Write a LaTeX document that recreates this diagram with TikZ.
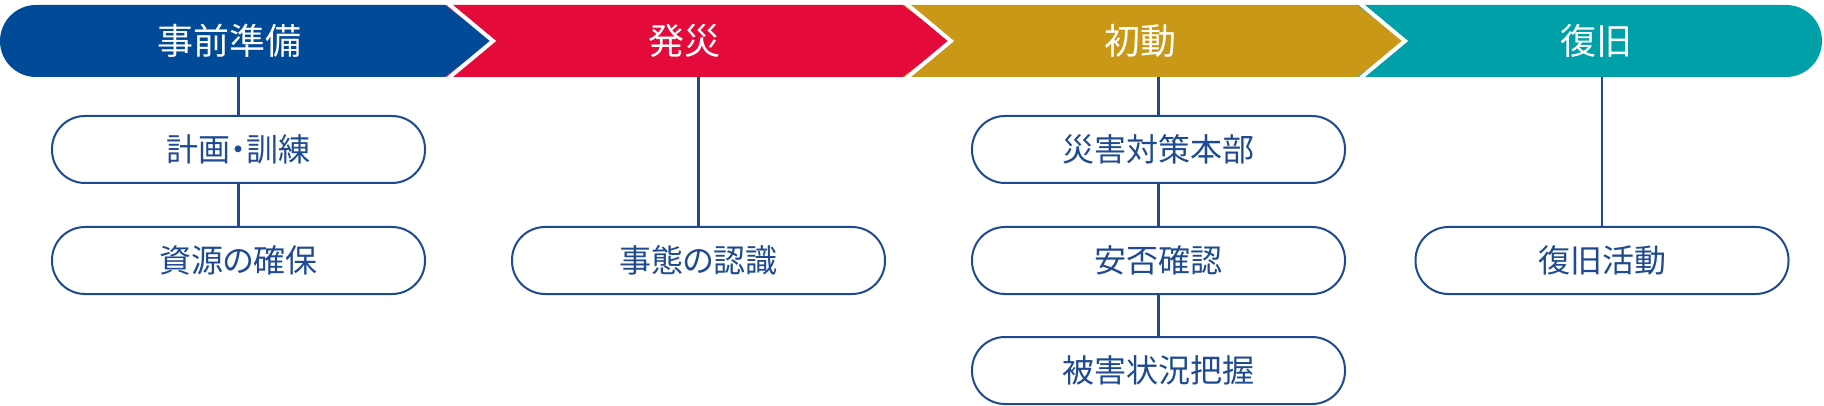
\documentclass[tikz,border=0pt]{standalone}
\usepackage{fontspec}
\setmainfont{Noto Sans CJK JP}[RawFeature=+palt]
\definecolor{cblue}{RGB}{0,74,152}
\definecolor{cred}{RGB}{228,11,58}
\definecolor{cgold}{RGB}{201,152,22}
\definecolor{cteal}{RGB}{0,160,168}
\definecolor{cnavy}{RGB}{30,74,145}
\begin{document}
\begin{tikzpicture}[x=1pt,y=-1pt,
  phase/.style={text=white,font=\fontsize{36pt}{42pt}\selectfont,inner sep=0pt},
  taskbox/.style={draw=cnavy,line width=2pt,fill=white,rounded corners=33pt,
    minimum width=373pt,minimum height=67pt,inner sep=0pt,text=cnavy,
    font=\fontsize{32pt}{38pt}\selectfont},
  link/.style={draw=cnavy,line width=2.6pt}]
\useasboundingbox (0,0) rectangle (1824,406);
% bar
\fill[cblue] (36,41) circle (36pt);
\fill[cblue] (36,5) -- (445,5) -- (493,41) -- (445,77) -- (36,77) -- cycle;
\fill[cred] (445,5) -- (903,5) -- (951,41) -- (903,77) -- (445,77) -- (493,41) -- cycle;
\fill[cgold] (903,5) -- (1357,5) -- (1405,41) -- (1357,77) -- (903,77) -- (951,41) -- cycle;
\fill[cteal] (1786,41) circle (36pt);
\fill[cteal] (1357,5) -- (1786,5) -- (1786,77) -- (1357,77) -- (1405,41) -- cycle;
\foreach \a/\b in {445/493,903/951,1357/1405}
  \draw[white,line width=4pt,line join=miter] (\a,1) -- (\b,41) -- (\a,81);
% phase labels
\node[phase] (p1) at (229,41) {事前準備};
\node[phase] (p2) at (684,41) {発災};
\node[phase] (p3) at (1140,41) {初動};
\node[phase] (p4) at (1596,41) {復旧};
\coordinate (b1) at (238.5,77);
\coordinate (b2) at (698.5,77);
\coordinate (b3) at (1158.5,77);
\coordinate (b4) at (1602,77);
% boxes
\node[taskbox] (a1) at (238.5,149.5) {計画・訓練};
\node[taskbox] (a2) at (238.5,260.5) {資源の確保};
\node[taskbox] (r1) at (698.5,260.5) {事態の認識};
\node[taskbox] (g1) at (1158.5,149.5) {災害対策本部};
\node[taskbox] (g2) at (1158.5,260.5) {安否確認};
\node[taskbox] (g3) at (1158.5,370.5) {被害状況把握};
\node[taskbox] (t1) at (1602,260.5) {復旧活動};
% links
\draw[link] (b1) -- (a1.north);
\draw[link] (a1.south) -- (a2.north);
\draw[link] (b2) -- (r1.north);
\draw[link] (b3) -- (g1.north);
\draw[link] (g1.south) -- (g2.north);
\draw[link] (g2.south) -- (g3.north);
\draw[link] (b4) -- (t1.north);
\end{tikzpicture}
\end{document}
